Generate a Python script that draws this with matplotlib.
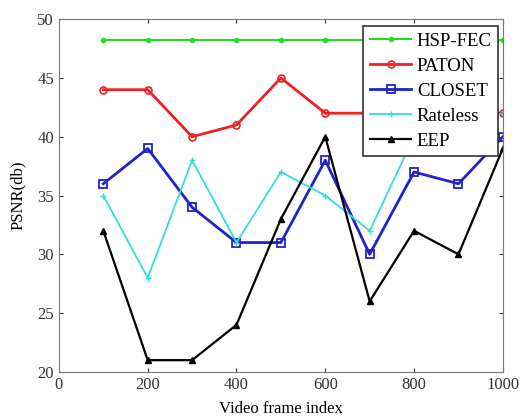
import matplotlib
matplotlib.use('Agg')
import matplotlib.pyplot as plt

# values
frames = [100, 200, 300, 400, 500, 600, 700, 800, 900, 1000]
hsp_fec = [48.2, 48.2, 48.2, 48.2, 48.2, 48.2, 48.2, 48.2, 48.2, 48.2]
paton = [44, 44, 40, 41, 45, 42, 42, 42, 42, 42]
closet = [36, 39, 34, 31, 31, 38, 30, 37, 36, 40]
rateless = [35, 28, 38, 31, 37, 35, 32, 40, 41, 42]
eep = [32, 21, 21, 24, 33, 40, 26, 32, 30, 39]

xticks = [0, 200, 400, 600, 800, 1000]
yticks = [20, 25, 30, 35, 40, 45, 50]

plt.rcParams['font.family'] = ['Liberation Serif', 'DejaVu Serif']

fig = plt.figure(figsize=(5.26, 4.16), dpi=100)
ax = fig.add_axes([0.112, 0.106, 0.844, 0.848])

ax.plot(frames, hsp_fec, color='#22dd22', marker='.', markersize=6, lw=1.5, label='HSP-FEC')
ax.plot(frames, paton, color='#ee2222', marker='o', markersize=5, mfc='none', mew=1.2, lw=2, label='PATON')
ax.plot(frames, closet, color='#2222cc', marker='s', markersize=5.5, mfc='none', mew=1.3, lw=2, label='CLOSET')
ax.plot(frames, rateless, color='#33dddd', marker='+', markersize=4, lw=1.3, label='Rateless')
ax.plot(frames, eep, color='black', marker='^', markersize=4.5, lw=1.6, label='EEP')

ax.set_xlim(0, 1000)
ax.set_ylim(20, 50)
ax.set_xticks(xticks)
ax.set_yticks(yticks)
ax.tick_params(direction='in', top=True, right=True, labelsize=12, length=3, colors='#333333')
for s in ax.spines.values():
    s.set_color('#777777')

ax.set_xlabel('Video frame index', fontsize=12, labelpad=6)
ax.set_ylabel('PSNR(db)', fontsize=12, labelpad=8)

leg = ax.legend(loc='upper right', fontsize=13.5, frameon=True, fancybox=False,
                edgecolor='#333333', framealpha=1, labelspacing=0.42,
                handlelength=2.2, handletextpad=0.3, borderpad=0.35,
                bbox_to_anchor=(0.99, 0.98), borderaxespad=0)
leg.get_frame().set_linewidth(1.2)

fig.savefig('out.png', dpi=100)
